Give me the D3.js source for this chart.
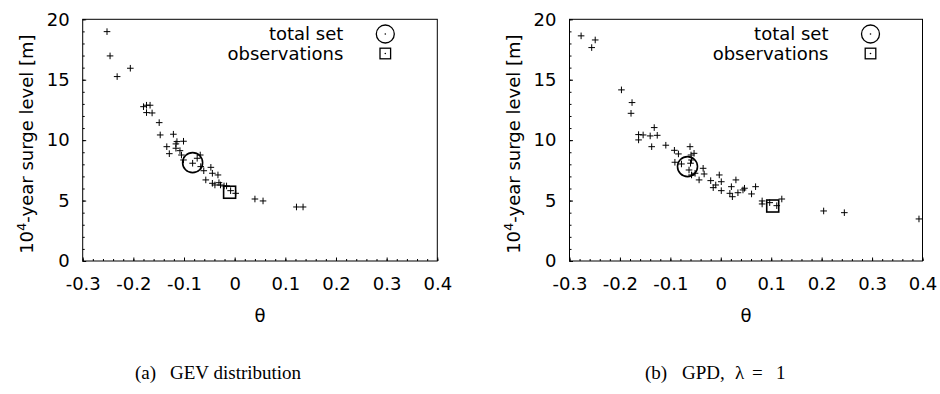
<!DOCTYPE html>
<html>
<head>
<meta charset="utf-8">
<script src="https://cdn.jsdelivr.net/npm/d3@7"></script>
<style>
  html, body { margin: 0; padding: 0; background: #fff; }
  svg { display: block; }
</style>
</head>
<body>
<svg id="chart" width="940" height="394"></svg>
<script>
// ---------- data ----------
const xTicks = [-0.3, -0.2, -0.1, 0, 0.1, 0.2, 0.3, 0.4];
const xTickLabels = ["-0.3", "-0.2", "-0.1", "0", "0.1", "0.2", "0.3", "0.4"];
const yTicks = [0, 5, 10, 15, 20];
const yTickLabels = ["0", "5", "10", "15", "20"];

// (a) GEV distribution
const gevTheta = [-0.252, -0.246, -0.232, -0.206, -0.180, -0.174, -0.167, -0.174, -0.163, -0.149,
  -0.147, -0.121, -0.114, -0.116, -0.101, -0.134, -0.129, -0.116, -0.108, -0.105,
  -0.101, -0.083, -0.074, -0.068, -0.067, -0.061, -0.047, -0.044, -0.033, -0.057,
  -0.044, -0.039, -0.031, -0.028, -0.021, -0.016, -0.008, 0.002, 0.040, 0.056,
  0.122, 0.135];
const gevLevel = [18.98, 16.97, 15.26, 15.95, 12.77, 12.89, 12.89, 12.28, 12.25, 11.45,
  10.43, 10.49, 9.88, 9.69, 9.91, 9.46, 8.88, 9.33, 9.13, 8.77,
  8.36, 8.09, 8.50, 8.77, 7.81, 7.47, 7.75, 7.26, 7.12, 6.71,
  6.43, 6.29, 6.48, 6.29, 6.21, 6.21, 5.82, 5.60, 5.13, 4.97,
  4.47, 4.47];
const gevTotalSet = [-0.083, 8.14];
const gevObservations = [-0.010, 5.69];

// (b) GPD, lambda = 1
const gpdTheta = [-0.277, -0.256, -0.249, -0.197, -0.176, -0.178, -0.163, -0.163, -0.154, -0.140,
  -0.132, -0.126, -0.137, -0.109, -0.092, -0.084, -0.091, -0.078, -0.061, -0.059,
  -0.053, -0.058, -0.060, -0.063, -0.058, -0.051, -0.035, -0.033, -0.043, -0.020,
  -0.015, -0.010, -0.003, 0.001, 0.001, 0.018, 0.021, 0.023, 0.030, 0.034,
  0.044, 0.047, 0.061, 0.069, 0.082, 0.082, 0.097, 0.111, 0.121, 0.204,
  0.245, 0.393];
const gpdLevel = [18.63, 17.66, 18.29, 14.16, 13.11, 12.22, 10.46, 10.02, 10.43, 10.35,
  11.04, 10.40, 9.46, 9.58, 9.16, 8.86, 8.17, 8.03, 9.46, 8.77,
  8.91, 8.36, 8.09, 7.53, 7.12, 7.26, 7.67, 7.20, 6.71, 6.65,
  6.07, 6.29, 7.12, 6.56, 5.82, 5.60, 6.15, 5.32, 6.71, 5.65,
  5.88, 6.02, 5.55, 6.15, 4.97, 4.72, 4.83, 4.58, 5.13, 4.14,
  4.00, 3.48];
const gpdTotalSet = [-0.066, 7.81];
const gpdObservations = [0.103, 4.55];

const legendLabels = ["total set", "observations"];
const xAxisTitle = "\u03b8";
const captionsA = ["(a)", "GEV distribution"];
const captionsB = ["(b)", "GPD, \u03bb = 1"];

// ---------- drawing ----------
const svg = d3.select("#chart");
const SANS = "'DejaVu Sans', 'Liberation Sans', Arial, sans-serif";
const SERIF = "'Liberation Serif', 'Times New Roman', serif";

function panel(opts) {
  const { left, right, top, bottom, theta, level, total, obs, caption } = opts;
  const x = d3.scaleLinear().domain([-0.3, 0.4]).range([left, right]);
  const y = d3.scaleLinear().domain([0, 20]).range([bottom, top]);
  const g = svg.append("g");

  // minor ticks
  const xMinor = d3.range(-0.3, 0.4001, 0.02).map(v => +v.toFixed(2));
  const yMinor = d3.range(0, 20.001, 1);
  g.append("g").attr("transform", `translate(0,${bottom})`)
    .call(d3.axisBottom(x).tickValues(xMinor).tickSizeInner(-2).tickSizeOuter(0).tickFormat(""))
    .call(s => s.select(".domain").remove())
    .call(s => s.selectAll("line").attr("stroke", "#000"));
  g.append("g").attr("transform", `translate(${left},0)`)
    .call(d3.axisLeft(y).tickValues(yMinor).tickSizeInner(-2).tickSizeOuter(0).tickFormat(""))
    .call(s => s.select(".domain").remove())
    .call(s => s.selectAll("line").attr("stroke", "#000"));

  // major ticks + labels
  g.append("g").attr("transform", `translate(0,${bottom})`)
    .call(d3.axisBottom(x).tickValues(xTicks).tickSizeInner(-3.5).tickSizeOuter(0).tickPadding(16)
      .tickFormat((d, i) => xTickLabels[i]))
    .call(s => s.select(".domain").remove())
    .call(s => s.selectAll("line").attr("stroke", "#000"))
    .call(s => s.selectAll("text").attr("font-family", SANS).attr("font-size", 18).attr("fill", "#000"));
  g.append("g").attr("transform", `translate(${left},0)`)
    .call(d3.axisLeft(y).tickValues(yTicks).tickSizeInner(-3.5).tickSizeOuter(0).tickPadding(13)
      .tickFormat((d, i) => yTickLabels[i]))
    .call(s => s.select(".domain").remove())
    .call(s => s.selectAll("line").attr("stroke", "#000"))
    .call(s => s.selectAll("text").attr("font-family", SANS).attr("font-size", 18).attr("fill", "#000"));

  // frame
  g.append("rect").attr("x", left).attr("y", top)
    .attr("width", right - left).attr("height", bottom - top)
    .attr("fill", "none").attr("stroke", "#000").attr("stroke-width", 1);

  // points
  const pts = theta.map((t, i) => [t, level[i]]);
  g.append("g").selectAll("path").data(pts).join("path")
    .attr("transform", d => `translate(${x(d[0])},${y(d[1])})`)
    .attr("d", "M-3.3,0H3.3M0,-3.3V3.3")
    .attr("stroke", "#000").attr("stroke-width", 1).attr("fill", "none");

  // total set circle + observations square
  g.append("circle").attr("cx", x(total[0])).attr("cy", y(total[1])).attr("r", 10)
    .attr("fill", "none").attr("stroke", "#000").attr("stroke-width", 1.6);
  g.append("rect").attr("x", x(obs[0]) - 6).attr("y", y(obs[1]) - 6)
    .attr("width", 12).attr("height", 12)
    .attr("fill", "none").attr("stroke", "#000").attr("stroke-width", 1.6);

  // legend
  const lx = right - 52, tx = right - 94;
  g.append("text").attr("x", tx).attr("y", 40).attr("text-anchor", "end")
    .attr("font-family", SANS).attr("font-size", 18).text(legendLabels[0]);
  g.append("text").attr("x", tx).attr("y", 60).attr("text-anchor", "end")
    .attr("font-family", SANS).attr("font-size", 18).text(legendLabels[1]);
  g.append("circle").attr("cx", lx).attr("cy", 34).attr("r", 9)
    .attr("fill", "none").attr("stroke", "#000").attr("stroke-width", 1.3);
  g.append("circle").attr("cx", lx).attr("cy", 34).attr("r", 0.8).attr("fill", "#000");
  g.append("rect").attr("x", lx - 5.3).attr("y", 53.5 - 5.3).attr("width", 10.6).attr("height", 10.6)
    .attr("fill", "none").attr("stroke", "#000").attr("stroke-width", 1.3);
  g.append("circle").attr("cx", lx).attr("cy", 53.5).attr("r", 0.8).attr("fill", "#000");

  // axis titles
  g.append("text").attr("x", (left + right) / 2).attr("y", 322).attr("text-anchor", "middle")
    .attr("font-family", SANS).attr("font-size", 18).text(xAxisTitle);
  const yl = g.append("text")
    .attr("transform", `translate(${left - 50},${(top + bottom) / 2 + 4}) rotate(-90)`)
    .attr("text-anchor", "middle").attr("font-family", SANS).attr("font-size", 18);
  yl.append("tspan").text("10");
  yl.append("tspan").attr("font-size", 13).attr("dy", -7).text("4");
  yl.append("tspan").attr("dy", 7).text("-year surge level [m]");

  // caption
  g.append("text").attr("x", caption.x0).attr("y", 379)
    .attr("font-family", SERIF).attr("font-size", 19).text(caption.t[0]);
  const c2 = g.append("text").attr("y", 379)
    .attr("font-family", SERIF).attr("font-size", 19);
  const words = caption.t[1].split(" ");
  if (caption.wordX) {
    c2.selectAll("tspan").data(words).join("tspan")
      .attr("x", (d, i) => caption.wordX[i]).text(d => d);
  } else {
    c2.attr("x", caption.x1).text(caption.t[1]);
  }
}

panel({ left: 82.7, right: 437.3, top: 19.3, bottom: 261,
  theta: gevTheta, level: gevLevel, total: gevTotalSet, obs: gevObservations,
  caption: { x0: 135, x1: 170, t: captionsA } });
panel({ left: 569.5, right: 922.5, top: 19.3, bottom: 261,
  theta: gpdTheta, level: gpdLevel, total: gpdTotalSet, obs: gpdObservations,
  caption: { x0: 645, x1: 682, t: captionsB, wordX: [682, 735, 752, 776] } });
</script>
</body>
</html>
